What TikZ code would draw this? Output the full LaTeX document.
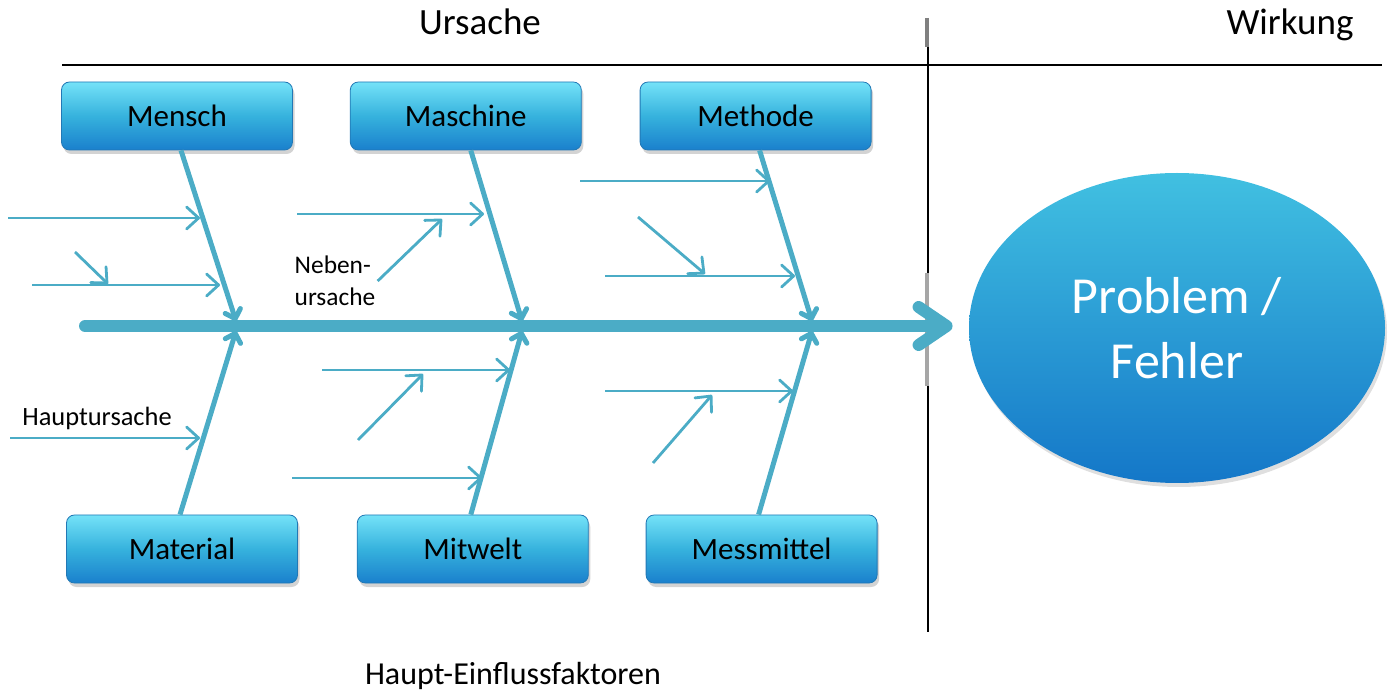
\documentclass[tikz,border=0pt]{standalone}
\usepackage{fontspec}
\setmainfont{Carlito}
\usepackage{tikz}
\usetikzlibrary{positioning,calc}
\usetikzlibrary{shapes.geometric,arrows.meta,shadows}

\definecolor{fish}{HTML}{4BACC6}
\definecolor{boxtop}{HTML}{74E2F8}
\definecolor{boxmid}{HTML}{36B2DD}
\definecolor{boxbot}{HTML}{1A80CD}
\definecolor{boxedge}{HTML}{2278B5}
\definecolor{elltop}{HTML}{41C0E1}
\definecolor{ellbot}{HTML}{1477C8}

\tikzset{
  cause/.style={rectangle, rounded corners=4pt, minimum width=115.5pt, minimum height=34pt,
    top color=boxtop, bottom color=boxbot, middle color=boxmid, draw=boxedge, line width=0.4pt,
    drop shadow={opacity=0.35, shadow xshift=1pt, shadow yshift=-2pt},
    font=\fontsize{15.5}{18}\selectfont},
  problem/.style={ellipse, minimum width=208pt, minimum height=155pt, inner sep=0pt,
    top color=elltop, bottom color=ellbot, align=center, text=white,
    drop shadow={opacity=0.25, shadow xshift=1pt, shadow yshift=-2pt},
    font=\fontsize{26}{32.5}\selectfont},
  spine/.style={fish, line width=6pt, line cap=round,
    -{Straight Barb[round, length=14pt, width=19pt]}},
  bone/.style={fish, line width=2.5pt, -{Straight Barb[round, length=4pt, width=8pt]}},
  sub/.style={fish, line width=1.4pt, -{Straight Barb[round, length=6pt, width=11pt]}},
}

\begin{document}
\begin{tikzpicture}[x=0.5pt, y=-0.5pt]
    \useasboundingbox (0,0) rectangle (1394,695);

    %% headings and frame
     \node (ursache) at (480,35) [anchor=base] {\fontsize{18.5}{22}\selectfont Ursache};
     \node (wirkung) at (1290,35) [anchor=base] {\fontsize{18.5}{22}\selectfont Wirkung};
     \node (haupt) at (513,676) {\fontsize{16}{19}\selectfont Haupt-Einflussfaktoren};
     \draw[line width=1pt] (62,65) -- (1382,65);
     \draw[line width=0.8pt] (928,47) -- (928,632);
     \draw[gray, line width=1.6pt] (927,18) -- (927,47);
     \draw[gray!70, line width=2pt] (927,273) -- (927,386);

    %% effect
     \node[problem] (prob) at (1177,328) {Problem /\\Fehler};

    %% main causes
     \node[cause] (mensch) at (177,116) {Mensch};
     \node[cause] (maschine) [right=28.5pt of mensch] {Maschine};
     \node[cause] (methode) [right=29pt of maschine] {Methode};

     \node[cause] (material) at (182,549) {Material};
     \node[cause] (mitwelt) [right=29.5pt of material] {Mitwelt};
     \node[cause] (messmittel) [right=28.5pt of mitwelt] {Messmittel};

    %% spine
     \coordinate (tail) at (85,326);
     \draw[spine, shorten >=8pt] (tail) -- (tail -| prob.west);

    %% bones
     \coordinate (t1) at (236,321);
     \coordinate (t2) at (522,321);
     \coordinate (t3) at (812,321);
     \coordinate (t4) at (236,331);
     \coordinate (t5) at (522,331);
     \coordinate (t6) at (812,331);
     \draw[bone] ([xshift=2pt]mensch.south) -- (t1);
     \draw[bone] ([xshift=2.5pt]maschine.south) -- (t2);
     \draw[bone] ([xshift=2pt]methode.south) -- (t3);
     \draw[bone] ([xshift=-1pt]material.north) -- (t4);
     \draw[bone] ([xshift=-1pt]mitwelt.north) -- (t5);
     \draw[bone] ([xshift=-1.5pt]messmittel.north) -- (t6);

    %% side causes
     \node (neben) at (335,281) [align=left, inner sep=1pt, font=\fontsize{12.7}{16}\selectfont] {Neben-\\ursache};
     \node (hu) at (97,418) [font=\fontsize{13.2}{15}\selectfont] {Hauptursache};

     \coordinate (a1) at (8,218);   \coordinate (b1) at (200,218);
     \coordinate (a2) at (32,285);  \coordinate (b2) at (220,285);
     \coordinate (a3) at (75,252);  \coordinate (b3) at (108,284);
     \coordinate (a4) at (297,214); \coordinate (b4) at (484,214);
     \coordinate (b5) at (442,219);
     \coordinate (a6) at (580,181); \coordinate (b6) at (770,181);
     \coordinate (a7) at (605,276); \coordinate (b7) at (795,276);
     \coordinate (a8) at (638,217); \coordinate (b8) at (705,274);
     \coordinate (a9) at (10,438);  \coordinate (b9) at (200,438);
     \coordinate (a10) at (322,370); \coordinate (b10) at (510,370);
     \coordinate (a11) at (358,440); \coordinate (b11) at (423,374);
     \coordinate (a12) at (292,478); \coordinate (b12) at (482,478);
     \coordinate (a13) at (605,391); \coordinate (b13) at (793,391);
     \coordinate (a14) at (653,463); \coordinate (b14) at (712,395);

     \draw[sub] (a1) -- (b1);
     \draw[sub] (a2) -- (b2);
     \draw[sub] (a3) -- (b3);
     \draw[sub] (a4) -- (b4);
     \draw[sub] (neben.east) -- (b5);
     \draw[sub] (a6) -- (b6);
     \draw[sub] (a7) -- (b7);
     \draw[sub] (a8) -- (b8);
     \draw[sub] (a9) -- (b9);
     \draw[sub] (a10) -- (b10);
     \draw[sub] (a11) -- (b11);
     \draw[sub] (a12) -- (b12);
     \draw[sub] (a13) -- (b13);
     \draw[sub] (a14) -- (b14);

    \end{tikzpicture}
\end{document}
